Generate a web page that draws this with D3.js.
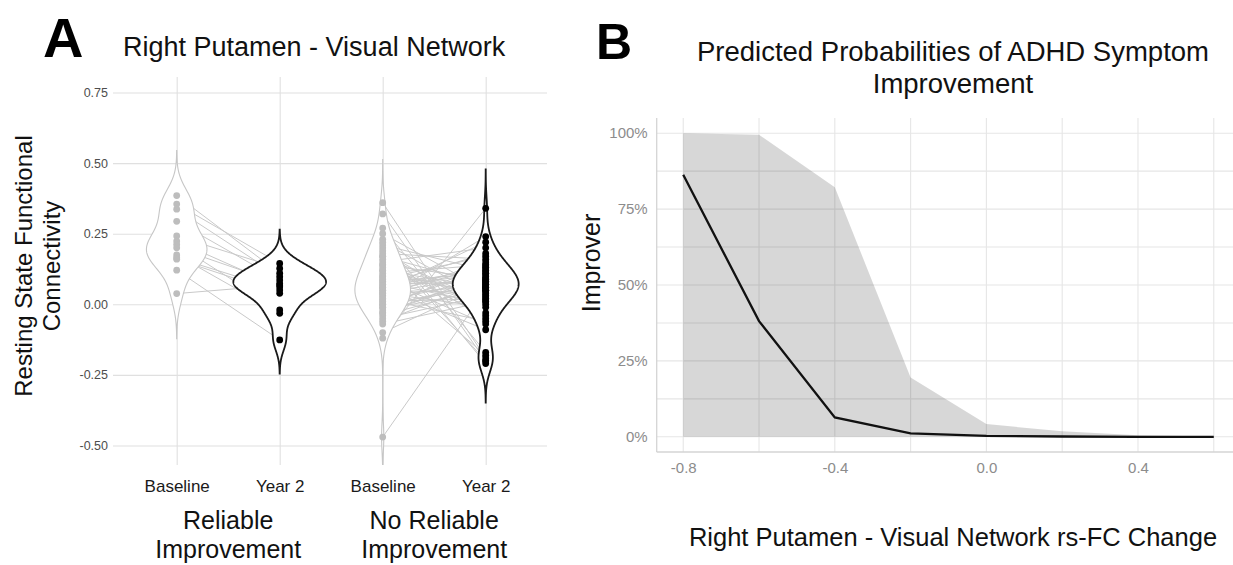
<!DOCTYPE html>
<html lang="en">
<head>
<meta charset="UTF-8">
<title>Right Putamen - Visual Network</title>
<script src="https://d3js.org/d3.v7.min.js"></script>
<style>
  body { margin: 0; background: #fff; }
  svg { display: block; font-family: "Liberation Sans", Arial, Helvetica, sans-serif; }
</style>
</head>
<body>
<svg width="1233" height="565"></svg>
<script>
// ---------- Panel A data: rs-FC per subject (same index = same subject) ----------
const catKeys = ['rel-base', 'rel-y2', 'no-base', 'no-y2'];
const catLabels = ['Baseline', 'Year 2', 'Baseline', 'Year 2'];
const groupLabels = [['Reliable', 'Improvement'], ['No Reliable', 'Improvement']];

const reliableBaseline = [0.385, 0.355, 0.337, 0.294, 0.242, 0.224, 0.212, 0.200, 0.175, 0.165, 0.160, 0.121, 0.038];
const reliableYear2    = [0.110, 0.145, 0.098, 0.086, 0.127, 0.062, -0.020, 0.074, -0.032, 0.051, 0.039, -0.126, 0.068];

const noReliableBaseline = [0.36, 0.32, 0.27, 0.25, 0.23, 0.21, 0.20, 0.19, 0.18, 0.17, 0.16, 0.15, 0.14, 0.13, 0.12, 0.11,
  0.10, 0.10, 0.09, 0.08, 0.08, 0.07, 0.07, 0.06, 0.06, 0.05, 0.05, 0.04, 0.04, 0.03, 0.03, 0.02, 0.01, 0.01, 0.00, 0.00,
  -0.01, -0.02, -0.03, -0.04, -0.05, -0.06, -0.07, -0.10, -0.12, -0.47,
  0.22, 0.14, 0.09, 0.06, 0.02, -0.01, -0.03, 0.12, 0.17, 0.04];
const noReliableYear2 = [-0.19, -0.20, -0.17, 0.05, -0.21, 0.12, -0.20, -0.03, 0.16, 0.07, -0.05, 0.20, 0.09, -0.18, 0.03, 0.14,
  0.04, 0.06, -0.07, 0.11, 0.00, 0.18, 0.08, -0.09, 0.13, 0.04, 0.22, 0.10, -0.01, 0.15, 0.07, 0.24, 0.02, 0.09, 0.06, 0.12,
  0.08, 0.05, 0.10, 0.06, 0.03, 0.08, 0.01, 0.07, 0.34, 0.05,
  0.02, -0.04, 0.17, 0.11, -0.06, 0.14, 0.09, 0.06, 0.01, 0.13];

const yTicksA = [-0.5, -0.25, 0, 0.25, 0.5, 0.75];

// ---------- Panel B data: predicted probability of improvement ----------
const fcChange  = [-0.8, -0.6, -0.4, -0.2, 0.0, 0.2, 0.4, 0.6];
const predicted = [0.863, 0.381, 0.064, 0.011, 0.003, 0.001, 0.000, 0.000];
const ciLower   = [0, 0, 0, 0, 0, 0, 0, 0];
const ciUpper   = [1.000, 0.995, 0.822, 0.195, 0.042, 0.018, 0.005, 0.001];

const xTicksB = [-0.8, -0.4, 0.0, 0.4];
const xGridB  = [-0.8, -0.6, -0.4, -0.2, 0.0, 0.2, 0.4, 0.6];
const yTicksB = [0, 0.25, 0.5, 0.75, 1];
const yGridB  = [0, 0.125, 0.25, 0.375, 0.5, 0.625, 0.75, 0.875, 1];

const svg = d3.select('svg');

function styleText(sel, size, color) {
  sel.style('font-size', size + 'px').attr('fill', color)
     .style('font-family', '"Liberation Sans", Arial, Helvetica, sans-serif');
}

// ================= Panel A =================
const plotA = { left: 113, right: 547, top: 77, bottom: 465 };
const xA = d3.scalePoint().domain(catKeys).range([176.7, 485.7]);
const yA = d3.scaleLinear().domain([-0.569, 0.805]).range([plotA.bottom, plotA.top]);

const gA = svg.append('g');

svg.append('clipPath').attr('id', 'clipA')
  .append('rect')
    .attr('x', plotA.left).attr('y', plotA.top)
    .attr('width', plotA.right - plotA.left).attr('height', plotA.bottom - plotA.top);

// horizontal grid + y tick labels
gA.append('g')
    .attr('transform', `translate(${plotA.left},0)`)
    .call(d3.axisLeft(yA).tickValues(yTicksA).tickFormat(d => d.toFixed(2))
      .tickSize(-(plotA.right - plotA.left)).tickPadding(5))
    .call(g => g.select('.domain').remove())
    .call(g => g.selectAll('line').attr('stroke', '#e0e0e0').attr('stroke-width', 1.1))
    .call(g => styleText(g.selectAll('text'), 12.5, '#4d4d4d'));

// vertical grid + category labels
gA.append('g')
    .attr('transform', `translate(0,${plotA.bottom})`)
    .call(d3.axisBottom(xA).tickFormat(d => catLabels[catKeys.indexOf(d)])
      .tickSize(-(plotA.bottom - plotA.top)).tickPadding(15))
    .call(g => g.select('.domain').remove())
    .call(g => g.selectAll('line').attr('stroke', '#e0e0e0').attr('stroke-width', 1.1))
    .call(g => styleText(g.selectAll('text'), 17, '#1a1a1a'));

// group labels under the ticks
groupLabels.forEach((lines, i) => {
  const cx = (xA(catKeys[i * 2]) + xA(catKeys[i * 2 + 1])) / 2;
  lines.forEach((t, j) => {
    gA.append('text')
      .attr('x', cx).attr('y', 529 + j * 29)
      .attr('text-anchor', 'middle')
      .text(t)
      .call(s => styleText(s, 25, '#111'));
  });
});

const marks = gA.append('g').attr('clip-path', 'url(#clipA)');

// paired subject lines
const pairs = [
  { base: reliableBaseline, y2: reliableYear2, keys: ['rel-base', 'rel-y2'] },
  { base: noReliableBaseline, y2: noReliableYear2, keys: ['no-base', 'no-y2'] }
];
const pairLine = d3.line().x(d => d[0]).y(d => d[1]);
pairs.forEach(p => {
  marks.append('g').selectAll('path')
    .data(p.base.map((b, i) => [[xA(p.keys[0]), yA(b)], [xA(p.keys[1]), yA(p.y2[i])]]))
    .join('path')
      .attr('d', pairLine)
      .attr('fill', 'none')
      .attr('stroke', '#c9c9c9')
      .attr('stroke-width', 1);
});

// violins: gaussian KDE, Silverman bandwidth, extended 3 bandwidths, area-scaled
function silverman(v) {
  return 0.9 * d3.deviation(v) * Math.pow(v.length, -0.2);
}
function kde(v) {
  const bw = silverman(v);
  const lo = d3.min(v) - 3 * bw, hi = d3.max(v) + 3 * bw;
  return d3.range(512).map(i => {
    const x = lo + (hi - lo) * i / 511;
    const dens = d3.mean(v, d => Math.exp(-0.5 * ((x - d) / bw) ** 2)) / (bw * Math.sqrt(2 * Math.PI));
    return [x, dens];
  });
}

const violins = [
  { key: 'rel-base', values: reliableBaseline, stroke: '#c6c6c6', sw: 1.1, dot: '#bdbdbd' },
  { key: 'rel-y2',   values: reliableYear2,    stroke: '#1a1a1a', sw: 1.8, dot: '#000' },
  { key: 'no-base',  values: noReliableBaseline, stroke: '#c6c6c6', sw: 1.1, dot: '#bdbdbd' },
  { key: 'no-y2',    values: noReliableYear2,  stroke: '#1a1a1a', sw: 1.8, dot: '#000' }
];
violins.forEach(v => { v.dens = kde(v.values); });
const maxDens = d3.max(violins, v => d3.max(v.dens, d => d[1]));
const wScale = d3.scaleLinear().domain([0, maxDens]).range([0, 0.45 * xA.step()]);

violins.forEach(v => {
  const cx = xA(v.key);
  const area = d3.area()
    .y(d => yA(d[0]))
    .x0(d => cx - wScale(d[1]))
    .x1(d => cx + wScale(d[1]));
  marks.append('path')
    .datum(v.dens)
    .attr('d', area)
    .attr('fill', '#fff')
    .attr('stroke', v.stroke)
    .attr('stroke-width', v.sw);
});

violins.forEach(v => {
  marks.append('g').selectAll('circle')
    .data(v.values)
    .join('circle')
      .attr('cx', xA(v.key))
      .attr('cy', d => yA(d))
      .attr('r', 3.4)
      .attr('fill', v.dot);
});

// titles and y label
svg.append('text').attr('x', 43).attr('y', 57).text('A')
  .style('font-weight', 'bold').call(s => styleText(s, 56, '#000'));
svg.append('text').attr('x', 123).attr('y', 56).text('Right Putamen - Visual Network')
  .call(s => styleText(s, 27, '#111'));

const yTitleA = svg.append('text')
  .attr('transform', 'translate(0,266) rotate(-90)')
  .attr('text-anchor', 'middle');
yTitleA.append('tspan').attr('x', 0).attr('y', 32).text('Resting State Functional');
yTitleA.append('tspan').attr('x', 0).attr('y', 60).text('Connectivity');
styleText(yTitleA, 24, '#111');

// ================= Panel B =================
const plotB = { left: 656.7, right: 1233, top: 118, bottom: 452 };
const xB = d3.scaleLinear().domain([-0.87, 0.67]).range([656.7, 1240.3]);
const yB = d3.scaleLinear().domain([-0.05, 1.05]).range([plotB.bottom, plotB.top]);

const gB = svg.append('g');

gB.append('g').selectAll('line')
  .data(yGridB).join('line')
    .attr('x1', plotB.left).attr('x2', plotB.right)
    .attr('y1', d => yB(d)).attr('y2', d => yB(d))
    .attr('stroke', '#e6e6e6').attr('stroke-width', 1.1);
gB.append('g').selectAll('line')
  .data(xGridB).join('line')
    .attr('x1', d => xB(d)).attr('x2', d => xB(d))
    .attr('y1', plotB.top).attr('y2', plotB.bottom)
    .attr('stroke', '#e6e6e6').attr('stroke-width', 1.1);

// confidence ribbon and predicted line
const idx = d3.range(fcChange.length);
gB.append('path')
  .datum(idx)
  .attr('d', d3.area().x(i => xB(fcChange[i])).y0(i => yB(ciLower[i])).y1(i => yB(ciUpper[i])))
  .attr('fill', '#000')
  .attr('fill-opacity', 0.155);

gB.append('path')
  .datum(idx)
  .attr('d', d3.line().x(i => xB(fcChange[i])).y(i => yB(predicted[i])))
  .attr('fill', 'none')
  .attr('stroke', '#111')
  .attr('stroke-width', 2.3);

// axis lines
gB.append('line')
  .attr('x1', plotB.left).attr('x2', plotB.left)
  .attr('y1', plotB.top).attr('y2', plotB.bottom)
  .attr('stroke', '#d4d4d4').attr('stroke-width', 1.3);
gB.append('line')
  .attr('x1', plotB.left).attr('x2', plotB.right)
  .attr('y1', plotB.bottom).attr('y2', plotB.bottom)
  .attr('stroke', '#d4d4d4').attr('stroke-width', 1.3);

// tick labels
gB.append('g')
    .attr('transform', `translate(${plotB.left},0)`)
    .call(d3.axisLeft(yB).tickValues(yTicksB).tickFormat(d => Math.round(d * 100) + '%').tickSize(0).tickPadding(9))
    .call(g => g.select('.domain').remove())
    .call(g => styleText(g.selectAll('text'), 15, '#8c8c8c'));
gB.append('g')
    .attr('transform', `translate(0,${plotB.bottom})`)
    .call(d3.axisBottom(xB).tickValues(xTicksB).tickFormat(d => d.toFixed(1)).tickSize(0).tickPadding(10))
    .call(g => g.select('.domain').remove())
    .call(g => styleText(g.selectAll('text'), 15, '#8c8c8c'));

// titles
svg.append('text').attr('x', 596).attr('y', 59).text('B')
  .style('font-weight', 'bold').call(s => styleText(s, 50, '#000'));
const titleB = svg.append('text').attr('text-anchor', 'middle');
titleB.append('tspan').attr('x', 953).attr('y', 61).text('Predicted Probabilities of ADHD Symptom');
titleB.append('tspan').attr('x', 953).attr('y', 93).text('Improvement');
styleText(titleB, 27.5, '#111');

svg.append('text')
  .attr('x', 953).attr('y', 546)
  .attr('text-anchor', 'middle')
  .text('Right Putamen - Visual Network rs-FC Change')
  .call(s => styleText(s, 25.5, '#111'));

svg.append('text')
  .attr('transform', 'translate(600,263) rotate(-90)')
  .attr('text-anchor', 'middle')
  .text('Improver')
  .call(s => styleText(s, 25, '#111'));
</script>
</body>
</html>
